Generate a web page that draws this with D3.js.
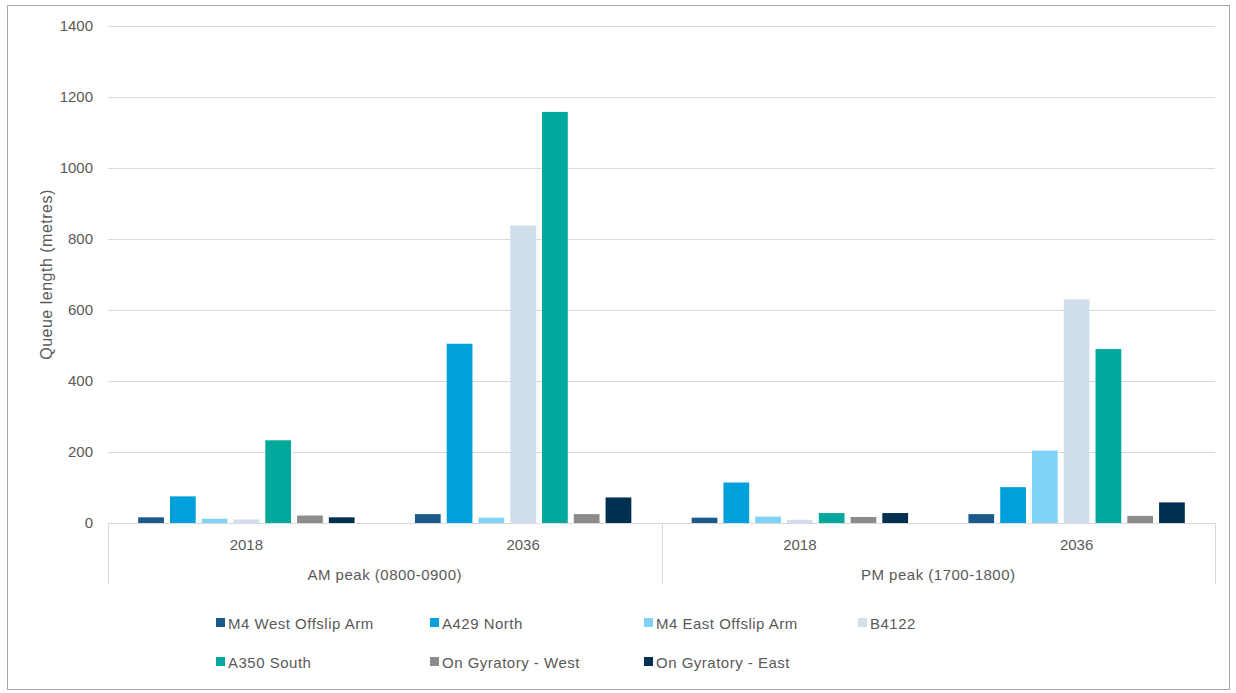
<!DOCTYPE html>
<html>
<head>
<meta charset="utf-8">
<script src="https://cdn.jsdelivr.net/npm/d3@7"></script>
<style>
  html, body { margin: 0; padding: 0; background: #fff; }
  svg { display: block; font-family: "Liberation Sans", Arial, sans-serif; }
</style>
</head>
<body>
<svg id="chart" width="1236" height="693"></svg>
<script>
// Queue lengths by approach arm, peak period and year
const periods = ["AM peak (0800-0900)", "PM peak (1700-1800)"];
const years = ["2018", "2036"];
const series = ["M4 West Offslip Arm", "A429 North", "M4 East Offslip Arm", "B4122",
                "A350 South", "On Gyratory - West", "On Gyratory - East"];
const colors = ["#1b5a8a", "#00a0dc", "#80d2f6", "#d1dfec", "#00a99c", "#8c8c8c", "#00304f"];

// values per series, in order: AM 2018, AM 2036, PM 2018, PM 2036
const m4West   = [16, 25, 15, 25];
const a429     = [75, 505, 114, 101];
const m4East   = [12, 15, 18, 204];
const b4122    = [10, 838, 9, 630];
const a350     = [233, 1158, 28, 490];
const gyrWest  = [21, 25, 17, 20];
const gyrEast  = [16, 72, 28, 58];
const seriesValues = [m4West, a429, m4East, b4122, a350, gyrWest, gyrEast];
const yTicks = [0, 200, 400, 600, 800, 1000, 1200, 1400];

const svg = d3.select("#chart");
const textColor = "#595959";
const fontSize = "15px";
const spacing = "0.5px";

// outer frame
svg.append("rect").attr("x", 7.5).attr("y", 5.5).attr("width", 1222).attr("height", 684)
  .attr("fill", "none").attr("stroke", "#a6a6a6").attr("stroke-width", 1);

const plot = { left: 108, right: 1215, top: 26, bottom: 523 };

const groups = [];
periods.forEach(p => years.forEach(yr => groups.push(p + "|" + yr)));

const x0 = d3.scaleBand().domain(groups).range([plot.left, plot.right]).paddingInner(0).paddingOuter(0);
const x1 = d3.scaleBand().domain(series).range([0, x0.bandwidth()]).paddingInner(0.19).paddingOuter(0.95);
const y = d3.scaleLinear().domain([0, 1400]).range([plot.bottom, plot.top]);

// gridlines
svg.append("g").selectAll("line").data(yTicks).join("line")
  .attr("x1", plot.left).attr("x2", plot.right)
  .attr("y1", d => Math.round(y(d)) + 0.5).attr("y2", d => Math.round(y(d)) + 0.5)
  .attr("stroke", "#d9d9d9").attr("stroke-width", 1);

// y axis labels
const yAxis = d3.axisLeft(y).tickValues(yTicks).tickFormat(d3.format("d")).tickSize(0).tickPadding(15);
const yg = svg.append("g").attr("transform", `translate(${plot.left},0)`).call(yAxis);
yg.select(".domain").remove();
yg.selectAll("text").attr("fill", textColor).style("font-size", fontSize)
  .style("font-family", "'Liberation Sans', Arial, sans-serif");

// y axis title
svg.append("text")
  .attr("transform", `translate(52,${(plot.top + plot.bottom) / 2}) rotate(-90)`)
  .attr("text-anchor", "middle").attr("fill", textColor).style("font-size", "16px")
  .style("letter-spacing", spacing)
  .text("Queue length (metres)");

// bars
const barData = [];
groups.forEach((g, gi) => series.forEach((s, si) => barData.push({ g, s, si, v: seriesValues[si][gi] })));
svg.append("g").selectAll("rect").data(barData).join("rect")
  .attr("x", d => x0(d.g) + x1(d.s))
  .attr("width", x1.bandwidth())
  .attr("y", d => y(d.v))
  .attr("height", d => y(0) - y(d.v))
  .attr("fill", d => colors[d.si]);

// category axis: year labels, period labels and separators
const xg = svg.append("g");
groups.forEach(g => {
  xg.append("text").attr("x", x0(g) + x0.bandwidth() / 2).attr("y", 550)
    .attr("text-anchor", "middle").attr("fill", textColor).style("font-size", fontSize)
    .text(g.split("|")[1]);
});
const periodScale = d3.scaleBand().domain(periods).range([plot.left, plot.right]);
periods.forEach(p => {
  xg.append("text").attr("x", periodScale(p) + periodScale.bandwidth() / 2).attr("y", 580)
    .attr("text-anchor", "middle").attr("fill", textColor).style("font-size", fontSize)
    .style("letter-spacing", spacing)
    .text(p);
});
const seps = [plot.left, periodScale(periods[1]), plot.right];
xg.selectAll("line.sep").data(seps).join("line").attr("class", "sep")
  .attr("x1", d => Math.round(d) + 0.5).attr("x2", d => Math.round(d) + 0.5)
  .attr("y1", plot.bottom).attr("y2", 584)
  .attr("stroke", "#d9d9d9");

// legend
const legendX = [216, 430, 644, 858];
const legendY = [618, 657];
const lg = svg.append("g");
series.forEach((s, i) => {
  const col = i < 4 ? i : i - 4;
  const row = i < 4 ? 0 : 1;
  const gx = legendX[col], gy = legendY[row];
  lg.append("rect").attr("x", gx).attr("y", gy).attr("width", 9).attr("height", 9).attr("fill", colors[i]);
  lg.append("text").attr("x", gx + 12).attr("y", gy + 11).attr("fill", textColor)
    .style("font-size", fontSize).style("letter-spacing", spacing).text(s);
});
</script>
</body>
</html>
